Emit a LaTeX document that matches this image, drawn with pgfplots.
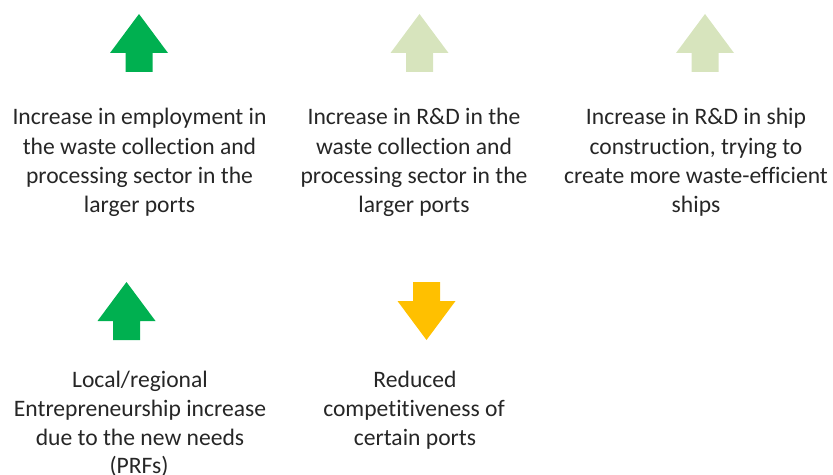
\documentclass[border=0pt]{standalone}
\usepackage{pgfplots}
\pgfplotsset{compat=1.18}
\usepackage{fontspec}
\setmainfont{Carlito}[Ligatures=NoCommon]
\definecolor{dkgreen}{HTML}{00B050}
\definecolor{ltgreen}{HTML}{D7E4BD}
\definecolor{amber}{HTML}{FFC000}
\definecolor{txt}{HTML}{262626}
\tikzset{lbl/.style={font=\fontsize{23.6bp}{29bp}\selectfont, text=txt, inner sep=0pt, anchor=base}}
\pgfdeclareplotmark{uparr}{%
  \pgfpathmoveto{\pgfpoint{0bp}{29bp}}%
  \pgfpathlineto{\pgfpoint{29bp}{-10bp}}%
  \pgfpathlineto{\pgfpoint{13.5bp}{-10bp}}%
  \pgfpathlineto{\pgfpoint{13.5bp}{-29bp}}%
  \pgfpathlineto{\pgfpoint{-13.5bp}{-29bp}}%
  \pgfpathlineto{\pgfpoint{-13.5bp}{-10bp}}%
  \pgfpathlineto{\pgfpoint{-29bp}{-10bp}}%
  \pgfpathclose\pgfusepathqfill}
\pgfdeclareplotmark{downarr}{%
  \pgfpathmoveto{\pgfpoint{0bp}{-29bp}}%
  \pgfpathlineto{\pgfpoint{29bp}{10bp}}%
  \pgfpathlineto{\pgfpoint{13.5bp}{10bp}}%
  \pgfpathlineto{\pgfpoint{13.5bp}{29bp}}%
  \pgfpathlineto{\pgfpoint{-13.5bp}{29bp}}%
  \pgfpathlineto{\pgfpoint{-13.5bp}{10bp}}%
  \pgfpathlineto{\pgfpoint{-29bp}{10bp}}%
  \pgfpathclose\pgfusepathqfill}
\begin{document}
\begin{tikzpicture}
\begin{axis}[
  width=833bp, height=475bp, scale only axis,
  xmin=0, xmax=833, ymin=0, ymax=475, y dir=reverse,
  hide axis, clip=false,
]
\addplot[only marks, mark=uparr, color=dkgreen] coordinates {(139,43) (126.5,311)};
\addplot[only marks, mark=uparr, color=ltgreen] coordinates {(419.5,43) (705,43)};
\addplot[only marks, mark=downarr, color=amber] coordinates {(426.5,311)};
% text block 1
\node[lbl] at (axis cs:139.5,125) {Increase in employment in};
\node[lbl] at (axis cs:139.5,154) {the waste collection and};
\node[lbl] at (axis cs:139.5,183) {processing sector in the};
\node[lbl] at (axis cs:139.5,212) {larger ports};
% text block 2
\node[lbl] at (axis cs:414,125) {Increase in R\&D in the};
\node[lbl] at (axis cs:414,154) {waste collection and};
\node[lbl] at (axis cs:414,183) {processing sector in the};
\node[lbl] at (axis cs:414,212) {larger ports};
% text block 3
\node[lbl] at (axis cs:696,125) {Increase in R\&D in ship};
\node[lbl] at (axis cs:696,154) {construction, trying to};
\node[lbl] at (axis cs:696,183) {create more waste-efficient};
\node[lbl] at (axis cs:696,212) {ships};
% text block 4
\node[lbl] at (axis cs:140,387) {Local/regional};
\node[lbl] at (axis cs:140,416) {Entrepreneurship increase};
\node[lbl] at (axis cs:140,445) {due to the new needs};
\node[lbl] at (axis cs:139,473) {(PRFs)};
% text block 5
\node[lbl] at (axis cs:415,387) {Reduced};
\node[lbl] at (axis cs:414,416) {competitiveness of};
\node[lbl] at (axis cs:415,445) {certain ports};
\end{axis}
\pgfresetboundingbox
\path (current axis.south west) rectangle (current axis.north east);
\end{tikzpicture}
\end{document}
